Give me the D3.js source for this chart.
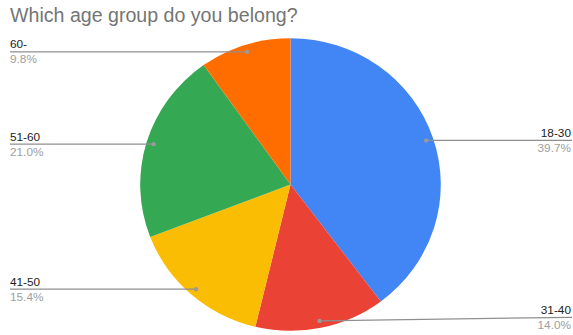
<!DOCTYPE html>
<html>
<head>
<meta charset="utf-8">
<script src="https://cdn.jsdelivr.net/npm/d3@7"></script>
<style>
  html, body { margin: 0; padding: 0; background: #fff; }
  svg { display: block; font-family: "Liberation Sans", Arial, sans-serif; }
</style>
</head>
<body>
<svg id="chart" width="573" height="335"></svg>
<script>
// Survey answers: share of respondents per age group (percent)
const categories = ["18-30", "31-40", "41-50", "51-60", "60-"];
const values = [39.7, 14.0, 15.4, 21.0, 9.8];
const colors = ["#4285f4", "#ea4335", "#fbbc04", "#34a853", "#ff6d01"];
const title = "Which age group do you belong?";

const width = 573, height = 335;
const cx = 290.5, cy = 184.5;
const R = 150.3;           // horizontal radius
const squash = 146.3 / R;  // vertical squash of the pie

const svg = d3.select("#chart");

svg.append("text")
  .attr("x", 10)
  .attr("y", 22)
  .attr("fill", "#757575")
  .attr("font-size", 19.6)
  .text(title);

const pie = d3.pie().sort(null).value(d => d)(values);
const arc = d3.arc().innerRadius(0).outerRadius(R);
const color = d3.scaleOrdinal().domain(categories).range(colors);

const g = svg.append("g")
  .attr("transform", `translate(${cx},${cy}) scale(1,${squash})`);

g.selectAll("path")
  .data(pie)
  .join("path")
  .attr("d", arc)
  .attr("fill", (d, i) => color(categories[i]));

// Leader lines: dot on the slice near the rim, horizontal line out to the label
const labels = svg.append("g");
pie.forEach((d, i) => {
  const a = (d.startAngle + d.endAngle) / 2;
  const r = R * 0.952;
  const dx = cx + r * Math.sin(a);
  const dy = cy - r * Math.cos(a) * squash;
  const right = Math.sin(a) > 0;
  const ly = Math.min(dy, height - 17.7);
  const ex = right ? 572 : 10;

  labels.append("line")
    .attr("x1", dx).attr("y1", dy)
    .attr("x2", ex).attr("y2", ly)
    .attr("stroke", "#8f8f8f")
    .attr("stroke-width", 1.2);
  labels.append("circle")
    .attr("cx", dx).attr("cy", dy).attr("r", 2.2)
    .attr("fill", "#9a9a9a");

  const tx = right ? 571 : 10;
  const anchor = right ? "end" : "start";
  labels.append("text")
    .attr("x", tx).attr("y", ly - 3.5)
    .attr("text-anchor", anchor)
    .attr("font-size", 11.8)
    .attr("fill", "#222")
    .text(categories[i]);
  labels.append("text")
    .attr("x", tx).attr("y", ly + 11.5)
    .attr("text-anchor", anchor)
    .attr("font-size", 11.8)
    .attr("fill", "#9e9e9e")
    .text(values[i].toFixed(1) + "%");
});
</script>
</body>
</html>
